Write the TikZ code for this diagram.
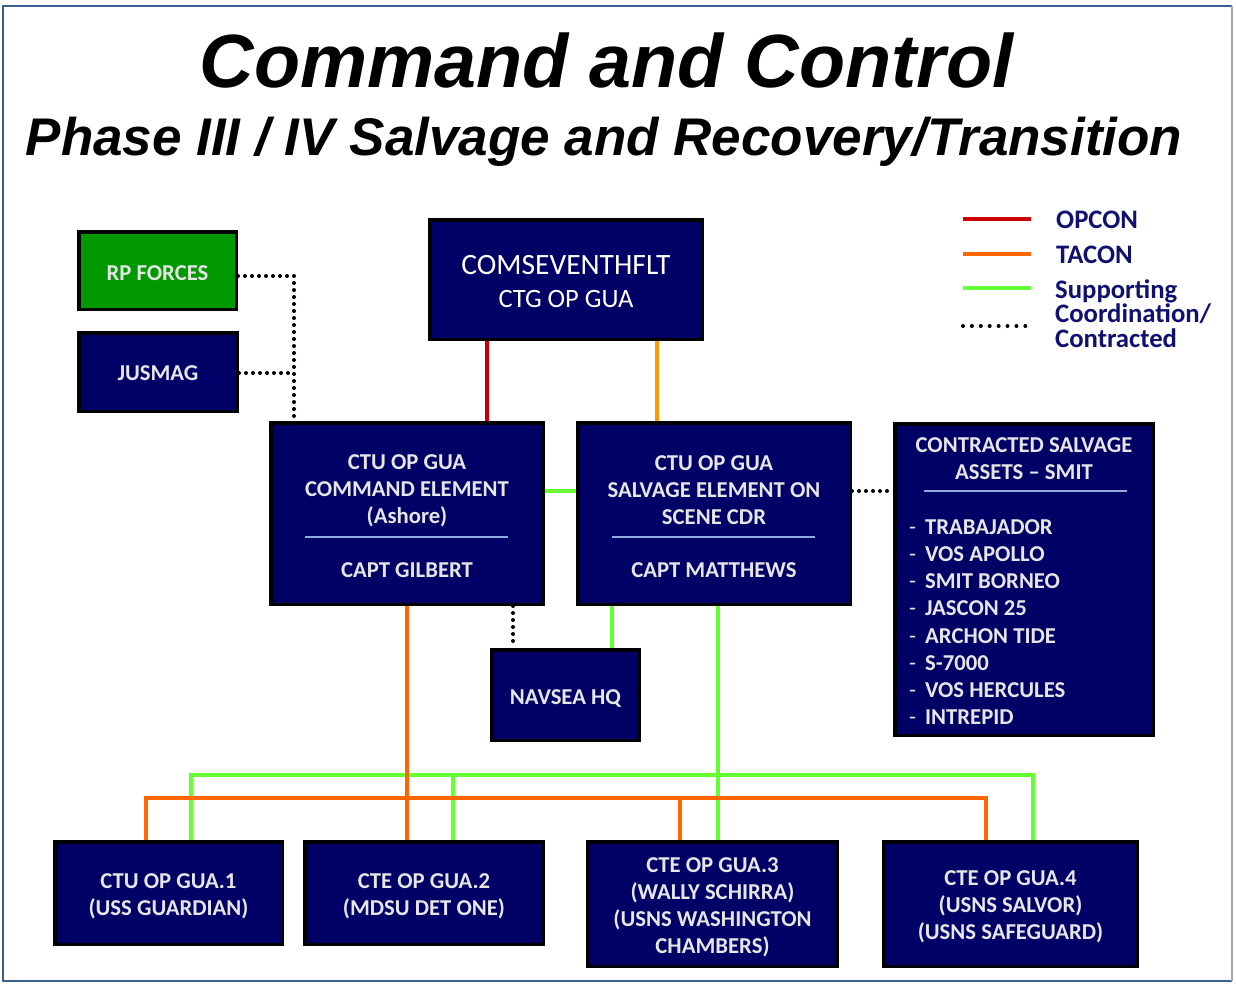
\documentclass[tikz,border=0pt]{standalone}
\usepackage{fontspec}
\setmainfont{Carlito}
\newfontfamily\titlefont{Liberation Sans}
\usetikzlibrary{backgrounds}
\definecolor{navyc}{RGB}{0,0,102}
\definecolor{boxtxt}{RGB}{230,230,230}
\definecolor{rpgreen}{RGB}{0,153,0}
\definecolor{opred}{RGB}{204,0,0}
\definecolor{taclight}{RGB}{255,153,0}
\definecolor{tacorange}{RGB}{255,102,0}
\definecolor{supgreen}{RGB}{102,255,51}
\definecolor{legtxt}{RGB}{16,16,112}
\definecolor{sepblue}{RGB}{143,170,220}
\definecolor{framec}{RGB}{58,95,143}
\begin{document}
\begin{tikzpicture}[x=1pt,y=-1pt,
  box/.style={draw=black, line width=3.5pt, fill=navyc, inner sep=0pt},
  boxtext/.style={inner sep=0pt, text=boxtxt, yshift=-3pt,
    font=\bfseries\fontsize{22.7}{27}\selectfont, align=center},
  sepline/.style={draw=sepblue, line width=2pt},
  opcon/.style={draw=opred, line width=3.5pt},
  taconlight/.style={draw=taclight, line width=3.5pt},
  tacon/.style={draw=tacorange, line width=3.5pt},
  support/.style={draw=supgreen, line width=3.5pt},
  coord/.style={draw=black, line width=4pt, line cap=round, dash pattern=on 0pt off 7pt},
  legendtext/.style={inner sep=0pt, anchor=west, text=legtxt, font=\bfseries\fontsize{26.7}{24.5}\selectfont, align=left}
]
\useasboundingbox (0,0) rectangle (1236,983);

% title
\node[inner sep=0pt, anchor=base] (title) at (606.5,87)
  {\titlefont\bfseries\itshape\fontsize{75.5}{80}\selectfont Command and Control};
\node[inner sep=0pt, anchor=base] (subtitle) at (604,155)
  {\titlefont\bfseries\itshape\fontsize{53}{60}\selectfont Phase III / IV Salvage and Recovery/Transition};

% boxes
\node[box, fill=rpgreen, minimum width=157.5pt, minimum height=77.5pt] (rp) at (157.5,270.5) {};
\node[boxtext] (rpt) at (rp.center) {RP FORCES};
\node[box, minimum width=158.5pt, minimum height=78.5pt] (jus) at (158,372) {};
\node[boxtext, yshift=2pt] (just) at (jus.center) {JUSMAG};
\node[box, minimum width=272.5pt, minimum height=119.5pt] (com) at (566,279.5) {};
\node[inner sep=0pt, anchor=base, text=white, font=\fontsize{29.5}{33}\selectfont] (comt1) at (566,274) {COMSEVENTHFLT};
\node[inner sep=0pt, anchor=base, text=white, font=\fontsize{26.5}{33}\selectfont] (comt2) at (566,307) {CTG OP GUA};
\node[box, minimum width=272.5pt, minimum height=181.5pt] (cmd) at (407,513.5) {};
\node[boxtext] (cmdtext) at (407,488) {CTU OP GUA\\COMMAND ELEMENT\\(Ashore)};
\node[boxtext] (cmdcapt) at (407,567) {CAPT GILBERT};
\node[box, minimum width=272.5pt, minimum height=181.5pt] (sal) at (714,513.5) {};
\node[boxtext] (saltext) at (714,487) {CTU OP GUA\\SALVAGE ELEMENT ON\\SCENE CDR};
\node[boxtext] (salcapt) at (714,567) {CAPT MATTHEWS};
\node[box, minimum width=258.5pt, minimum height=311.5pt] (con) at (1024,579.5) {};
\node[boxtext, yshift=2pt] (contitle) at (1024,457.5) {CONTRACTED SALVAGE\\ASSETS -- SMIT};
\node[boxtext, yshift=2pt, anchor=west, align=left, font=\bfseries\fontsize{22.7}{27.1}\selectfont] (conlist) at (909,621)
  {{\mdseries -}\hspace{9pt}TRABAJADOR\\
   {\mdseries -}\hspace{9pt}VOS APOLLO\\
   {\mdseries -}\hspace{9pt}SMIT BORNEO\\
   {\mdseries -}\hspace{9pt}JASCON 25\\
   {\mdseries -}\hspace{9pt}ARCHON TIDE\\
   {\mdseries -}\hspace{9pt}S-7000\\
   {\mdseries -}\hspace{9pt}VOS HERCULES\\
   {\mdseries -}\hspace{9pt}INTREPID};
\node[box, minimum width=147.5pt, minimum height=90.5pt] (nav) at (565.5,695) {};
\node[boxtext] (navt) at (nav.center) {NAVSEA HQ};
\node[box, minimum width=227.5pt, minimum height=102.5pt] (g1) at (168.5,893) {};
\node[boxtext] (g1t) at (g1.center) {CTU OP GUA.1\\(USS GUARDIAN)};
\node[box, minimum width=238.5pt, minimum height=102.5pt] (g2) at (424,893) {};
\node[boxtext] (g2t) at (g2.center) {CTE OP GUA.2\\(MDSU DET ONE)};
\node[box, minimum width=249.5pt, minimum height=124.5pt] (g3) at (712.5,904) {};
\node[boxtext] (g3t) at (g3.center) {CTE OP GUA.3\\(WALLY SCHIRRA)\\(USNS WASHINGTON\\CHAMBERS)};
\node[box, minimum width=253.5pt, minimum height=124.5pt] (g4) at (1010.5,904) {};
\node[boxtext] (g4t) at (g4.center) {CTE OP GUA.4\\(USNS SALVOR)\\(USNS SAFEGUARD)};

% separators
\draw[sepline] (305,537) -- (508,537);
\draw[sepline] (612,537) -- (815,537);
\draw[sepline] (924,491) -- (1127,491);

% column / row coordinates
\coordinate (c146) at (146,0);
\coordinate (c191) at (191,0);
\coordinate (c294) at (294,0);
\coordinate (c407) at (407,0);
\coordinate (c453) at (453,0);
\coordinate (c487) at (487,0);
\coordinate (c513) at (513,0);
\coordinate (c612) at (612,0);
\coordinate (c657) at (657,0);
\coordinate (c680) at (680,0);
\coordinate (c718) at (718,0);
\coordinate (c986) at (986,0);
\coordinate (c1033) at (1033,0);
\coordinate (r276) at (0,276);
\coordinate (r373) at (0,373);
\coordinate (r491) at (0,491);
\coordinate (r775) at (0,775);
\coordinate (r798) at (0,798);

\begin{scope}[on background layer]
  \fill[white] (0,0) rectangle (1236,983);
  \draw[framec, line width=2.5pt] (1232,981) -- (3,981) -- (3,6) -- (1232,6);
  \draw[gray!70, line width=1.2pt] (1232,6) -- (1232,981);
  % connectors
  \draw[opcon] (com.south -| c487) -- (cmd.north -| c487);
  \draw[taconlight] (com.south -| c657) -- (sal.north -| c657);
  \draw[support] (cmd.east |- r491) -- (sal.west |- r491);
  \draw[coord] (sal.east |- r491) -- (con.west |- r491);
  \draw[coord] (rp.east |- r276) -- (c294 |- r276) -- (cmd.north -| c294);
  \draw[coord] (jus.east |- r373) -- (c294 |- r373);
  \draw[coord] (cmd.south -| c513) -- (nav.north -| c513);
  \draw[support] (sal.south -| c612) -- (nav.north -| c612);
  \draw[support] (g1.north -| c191) -- (c191 |- r775) -- (c1033 |- r775) -- (g4.north -| c1033);
  \draw[support] (c453 |- r775) -- (g2.north -| c453);
  \draw[support] (sal.south -| c718) -- (g3.north -| c718);
  \draw[tacon] (g1.north -| c146) -- (c146 |- r798) -- (c986 |- r798) -- (g4.north -| c986);
  \draw[tacon] (c680 |- r798) -- (g3.north -| c680);
  \draw[tacon] (cmd.south -| c407) -- (g2.north -| c407);
\end{scope}

% legend
\draw[opcon] (963,219) -- (1031,219);
\draw[tacon] (963,254) -- (1031,254);
\draw[support] (963,288) -- (1031,288);
\draw[coord, dash pattern=on 0pt off 8.9pt] (963,326) -- (1026,326);
\node[legendtext] (lopcon) at (1056,220) {OPCON};
\node[legendtext] (ltacon) at (1056,255) {TACON};
\node[legendtext] (lsup) at (1055,313.5) {Supporting\\Coordination/\\Contracted};
\end{tikzpicture}
\end{document}
